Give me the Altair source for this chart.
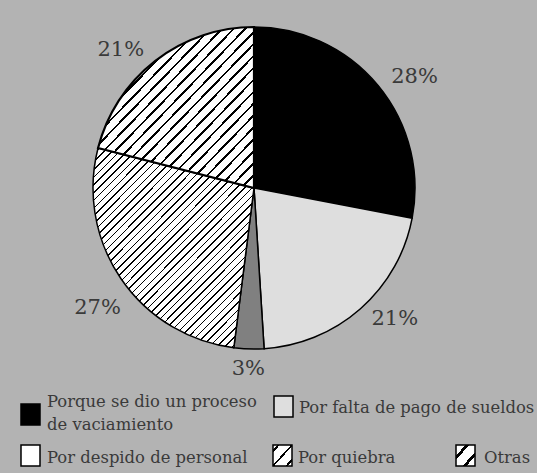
import altair as alt
import pandas as pd

# Reasons for closure and their share (%)
categories = [
    "Porque se dio un proceso de vaciamiento",
    "Por falta de pago de sueldos",
    "Por despido de personal",
    "Por quiebra",
    "Otras",
]
shares = [28, 21, 3, 27, 21]
pct_labels = ["28%", "21%", "3%", "27%", "21%"]
legend_text = [
    "Porque se dio un proceso|de vaciamiento",
    "Por falta de pago de sueldos",
    "Por despido de personal",
    "Por quiebra",
    "Otras",
]

# Percentage label placement: distance from centre (px) and angular nudge (% of circle)
label_radius = [195, 192, 181, 197, 192]
label_nudge = [1.4, -1.6, 0.0, -0.9, -1.7]

W, H = 537, 473
CX, CY, R = 254, 188, 161
BG = "#b3b3b3"
INK = "#3a3a3a"
FONT = "DejaVu Serif"


def stripes(n, ink, x2=1.0, y2=1.0):
    """Diagonal '/' hatching as a linear gradient with hard stops."""
    stops = []
    for k in range(n):
        a, b, c = k / n, (k + 1 - ink) / n, (k + 1) / n
        stops += [
            alt.GradientStop(offset=a, color="white"),
            alt.GradientStop(offset=b, color="white"),
            alt.GradientStop(offset=b, color="black"),
            alt.GradientStop(offset=c, color="black"),
        ]
    stops.append(alt.GradientStop(offset=1, color="white"))
    return alt.LinearGradient(gradient="linear", stops=stops, x1=0, y1=0, x2=x2, y2=y2)


def bands(centres, half):
    """A few isolated diagonal bands for the small legend swatches."""
    stops = [alt.GradientStop(offset=0, color="white")]
    for c in centres:
        stops += [
            alt.GradientStop(offset=c - half, color="white"),
            alt.GradientStop(offset=c - half, color="black"),
            alt.GradientStop(offset=c + half, color="black"),
            alt.GradientStop(offset=c + half, color="white"),
        ]
    stops.append(alt.GradientStop(offset=1, color="white"))
    return alt.LinearGradient(gradient="linear", stops=stops, x1=0, y1=0, x2=1, y2=1)


hatch_quiebra = stripes(45, 0.2, x2=0.85, y2=1.05)
hatch_otras = stripes(27, 0.22)

slice_fills = ["#000000", "#dedede", "#808080", hatch_quiebra, hatch_otras]
slice_strokes = [1.5, 1.5, 1.5, 1.5, 2.2]

swatch_fills = ["#000000", "#dedede", "#ffffff",
                bands([0.15, 0.5, 0.85], 0.03), bands([0.3, 0.72], 0.05)]
swatch_boxes = [(21, 404, 40, 425), (274, 396, 293, 417), (21, 445, 40, 466),
                (273, 445, 292, 466), (456, 445, 475, 466)]
text_anchor = [(47, 407), (299, 413), (47, 463), (298, 463), (484, 463)]

df = pd.DataFrame({
    "order": list(range(len(categories))),
    "category": categories,
    "share": shares,
    "pct": pct_labels,
    "lr": label_radius,
    "nudge": label_nudge,
})

base = (
    alt.Chart(df)
    .transform_window(end="sum(share)", frame=[None, 0], sort=[alt.SortField("order")])
    .transform_calculate(start="datum.end - datum.share",
                         mid="datum.end - datum.share / 2 + datum.nudge")
)
theta_scale = alt.Scale(domain=[0, 100])

layers = []
for cat, fill, sw in zip(categories, slice_fills, slice_strokes):
    layers.append(
        base.transform_filter(alt.datum.category == cat)
        .mark_arc(radius=R, fill=fill, stroke="black", strokeWidth=sw)
        .encode(
            theta=alt.Theta("start:Q", scale=theta_scale),
            theta2="end:Q",
            x=alt.value(CX),
            y=alt.value(CY),
        )
    )

layers.append(
    base.mark_text(font=FONT, fontSize=21, color=INK, align="center", baseline="middle")
    .encode(
        theta=alt.Theta("mid:Q", scale=theta_scale),
        radius=alt.Radius("lr:Q", scale=None),
        text="pct:N",
        x=alt.value(CX),
        y=alt.value(CY),
    )
)

# Hand-built legend (hatched swatches need custom fills)
for cat, fill, box, anchor, txt in zip(categories, swatch_fills, swatch_boxes,
                                       text_anchor, legend_text):
    entry = alt.Chart(df).transform_filter(alt.datum.category == cat)
    layers.append(
        entry.mark_rect(fill=fill, stroke="black", strokeWidth=1.5).encode(
            x=alt.value(box[0]), x2=alt.value(box[2]),
            y=alt.value(box[1]), y2=alt.value(box[3]),
        )
    )
    layers.append(
        entry.mark_text(font=FONT, fontSize=16.4, color=INK, align="left",
                        baseline="alphabetic", lineBreak="|", lineHeight=23)
        .encode(x=alt.value(anchor[0]), y=alt.value(anchor[1]), text=alt.value(txt))
    )

chart = (
    alt.layer(*layers)
    .properties(width=W, height=H, padding=0,
                autosize=alt.AutoSizeParams(type="fit", contains="padding"),
                background=BG)
    .configure_view(stroke=None)
)

chart.save("out.html", embed_options={"renderer": "svg", "actions": False})
